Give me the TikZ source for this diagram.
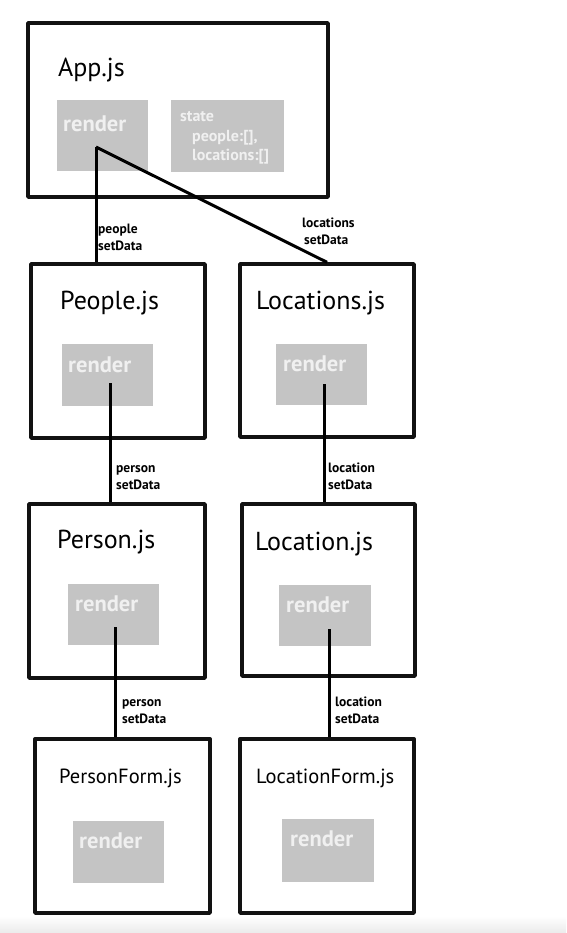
\documentclass[tikz,border=0pt]{standalone}
\usepackage{fontspec}
\setmainfont{PT Sans}
\begin{document}
\begin{tikzpicture}[x=1pt,y=-1pt,line join=round,
	comp/.style={draw=black!93,line width=3.4pt,minimum width=174pt,minimum height=174pt,inner sep=0pt},
	block/.style={fill=black!23,minimum width=91pt,minimum height=62pt,inner sep=0pt},
	title/.style={anchor=base west,inner sep=0pt,font=\fontsize{26}{30}\selectfont},
	formtitle/.style={title,font=\fontsize{20.5}{24}\selectfont},
	rnd/.style={anchor=base west,inner sep=0pt,text=black!6,font=\bfseries\fontsize{22.5}{26}\selectfont},
	wire/.style={line width=3pt},
	lbl/.style={anchor=base west,inner sep=0pt,align=left,font=\bfseries\fontsize{13.5}{17}\selectfont}]
	\useasboundingbox (0,0) rectangle (566,933);
	\shade[top color=white,bottom color=black!8] (0,916) rectangle (566,933);
	% App.js
	\node[comp,minimum width=300pt,line width=3.8pt] (app) at (178,110) {};
	\node[title] (appT) at (58,77) {App.js};
	\node[block,minimum height=71pt] (appR) at (102.5,135.5) {};
	\node[rnd] (appRT) at (63,132) {render};
	\node[block,minimum width=113pt,minimum height=72pt] (state) at (227.5,136) {};
	% base of a multi-line node = its last line
	\node[lbl,text=black!6,font=\bfseries\fontsize{16}{19.5}\selectfont] (stateT) at (180,161)
		{state\\\hspace*{12pt}people:[],\\\hspace*{12pt}locations:[]};
	\coordinate (appOut) at (96,147);
	% second row
	\node[comp] (people) at (118,351) {};
	\node[title] (peopleT) at (60,309) {People.js};
	\node[block] (peopleR) at (107.5,375) {};
	\node[rnd] (peopleRT) at (68,372) {render};
	\coordinate (peopleOut) at (110,383);
	\node[comp,minimum height=173pt] (locations) at (327,350.5) {};
	\node[title] (locationsT) at (256,309) {Locations.js};
	\node[block,minimum height=61pt] (locationsR) at (321.5,374.5) {};
	\node[rnd] (locationsRT) at (283,371) {render};
	\coordinate (locationsOut) at (324,384);
	% third row
	\node[comp,minimum width=176pt] (person) at (117,591) {};
	\node[title] (personT) at (57,548) {Person.js};
	\node[block,minimum height=61pt] (personR) at (113.5,614.5) {};
	\node[rnd] (personRT) at (75,611) {render};
	\coordinate (personOut) at (115,627);
	\node[comp,minimum width=173pt,minimum height=172pt] (location) at (328.5,590) {};
	\node[title] (locationT) at (255,550) {Location.js};
	\node[block,minimum width=92pt,minimum height=61pt] (locationR) at (325,615.5) {};
	\node[rnd] (locationRT) at (286,612) {render};
	\coordinate (locationOut) at (329,629);
	% forms
	\node[comp,minimum width=175pt] (personform) at (122.5,826) {};
	\node[formtitle] (personformT) at (59,783) {PersonForm.js};
	\node[block] (personformR) at (118.5,852) {};
	\node[rnd] (personformRT) at (79,848) {render};
	\node[comp] (locationform) at (327,826) {};
	\node[formtitle] (locationformT) at (256,783) {LocationForm.js};
	\node[block,minimum width=92pt,minimum height=63pt] (locationformR) at (328,850.5) {};
	\node[rnd] (locationformRT) at (290,846) {render};
	% connectors
	\draw[wire] (appOut) -- (appOut |- people.north);
	\draw[wire] (appOut) -- (locations.north);
	\draw[wire] (peopleOut) -- (peopleOut |- person.north);
	\draw[wire] (locationsOut) -- (locationsOut |- location.north);
	\draw[wire] (personOut) -- (personOut |- personform.north);
	\draw[wire] (locationOut) -- (locationOut |- locationform.north);
	\node[lbl] (peopleL) at (98,250) {people\\setData};
	\node[lbl] (locationsL) at (302,244) {locations\\\hspace*{2pt}setData};
	\node[lbl] (personL) at (116,489) {person\\setData};
	\node[lbl] (locationL) at (328,489) {location\\setData};
	\node[lbl] (personL2) at (122,723) {person\\setData};
	\node[lbl] (locationL2) at (335,723) {location\\setData};
\end{tikzpicture}
\end{document}
